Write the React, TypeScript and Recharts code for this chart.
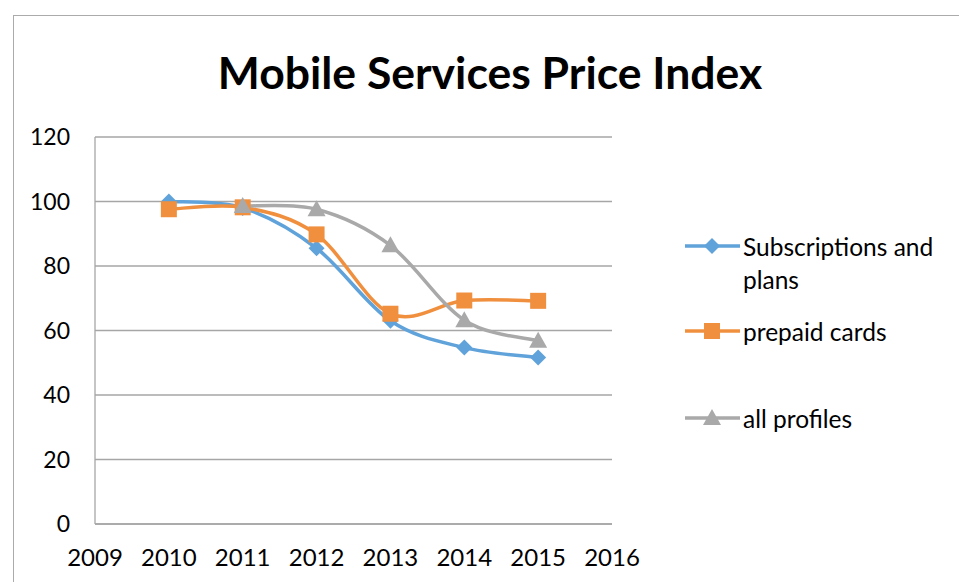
import React from "react";
import { LineChart, Line, XAxis, YAxis, CartesianGrid } from "recharts";

const years = [2010, 2011, 2012, 2013, 2014, 2015];
const subscriptions = [100, 98, 85.5, 63, 54.7, 51.6];
const prepaidCards = [97.6, 98.2, 89.8, 65.2, 69.3, 69.2];
const allProfiles = [null, 98.6, 97.6, 86.4, 63.2, 56.8];

const xTicks = [2009, 2010, 2011, 2012, 2013, 2014, 2015, 2016];
const yTicks = [0, 20, 40, 60, 80, 100, 120];

const BLUE = "#60A2DA";
const ORANGE = "#F0903F";
const GRAY = "#A9A9A9";
const FONT = "Lato, 'Open Sans', sans-serif";

const data = years.map((year, i) => ({
  year,
  subs: subscriptions[i],
  prepaid: prepaidCards[i],
  all: allProfiles[i],
}));

// excel-ish smoothed line (catmull-rom through the points)
const smoothCurve = (context: any) => {
  let pts: number[][] = [];
  return {
    areaStart() {},
    areaEnd() {},
    lineStart() {
      pts = [];
    },
    point(x: number, y: number) {
      pts.push([+x, +y]);
    },
    lineEnd() {
      const n = pts.length;
      if (!n) return;
      context.moveTo(pts[0][0], pts[0][1]);
      const t = 1 / 6;
      for (let i = 0; i < n - 1; i++) {
        const p0 = pts[i - 1] || pts[i];
        const p1 = pts[i];
        const p2 = pts[i + 1];
        const p3 = pts[i + 2] || p2;
        context.bezierCurveTo(
          p1[0] + (p2[0] - p0[0]) * t,
          p1[1] + (p2[1] - p0[1]) * t,
          p2[0] - (p3[0] - p1[0]) * t,
          p2[1] - (p3[1] - p1[1]) * t,
          p2[0],
          p2[1]
        );
      }
    },
  };
};

const Diamond = ({ cx, cy, fill }: any) => (
  <polygon points={`${cx},${cy - 8} ${cx + 8},${cy} ${cx},${cy + 8} ${cx - 8},${cy}`} fill={fill} />
);
const Square = ({ cx, cy, fill }: any) => (
  <rect x={cx - 8} y={cy - 8} width={16} height={16} fill={fill} />
);
const Triangle = ({ cx, cy, fill }: any) => (
  <polygon points={`${cx},${cy - 9} ${cx + 9},${cy + 7} ${cx - 9},${cy + 7}`} fill={fill} />
);

const makeDot = (Shape: any, fill: string) => (props: any) => {
  const { cx, cy, index, value } = props;
  if (cy == null || value == null) return <g key={`e-${index}`} />;
  return <Shape key={`d-${index}`} cx={cx} cy={cy} fill={fill} />;
};

const legendItems = [
  { lines: ["Subscriptions and", "plans"], color: BLUE, shape: Diamond, top: 0 },
  { lines: ["prepaid cards"], color: ORANGE, shape: Square, top: 85 },
  { lines: ["all profiles"], color: GRAY, shape: Triangle, top: 172 },
];

const ChartLegend = () => (
  <div
    style={{
      position: "absolute",
      left: 685,
      top: 230,
      width: 270,
      height: 210,
      fontFamily: FONT,
      fontSize: 24.5,
      color: "#000",
    }}
  >
    {legendItems.map((item) => {
      const Shape = item.shape;
      return (
        <div key={item.lines[0]} style={{ position: "absolute", left: 0, top: item.top }}>
          <svg width={56} height={32} style={{ position: "absolute", left: 0, top: 0 }}>
            <line x1={0} y1={16} x2={55} y2={16} stroke={item.color} strokeWidth={3.5} />
            <Shape cx={27} cy={16} fill={item.color} />
          </svg>
          <div style={{ position: "absolute", left: 58, top: 0, lineHeight: "33px", whiteSpace: "nowrap" }}>
            {item.lines.map((l) => (
              <div key={l}>{l}</div>
            ))}
          </div>
        </div>
      );
    })}
  </div>
);

export default function App() {
  return (
    <div style={{ position: "absolute", left: 0, top: 0, width: 959, height: 582, background: "#fff" }}>
      <div
        style={{
          position: "absolute",
          left: 13,
          top: 15,
          width: 946,
          height: 567,
          borderLeft: "1.5px solid #ababab",
          borderTop: "1.5px solid #ababab",
        }}
      />
      <div
        style={{
          position: "absolute",
          left: 0,
          top: 45,
          width: 980,
          textAlign: "center",
          fontFamily: FONT,
          fontWeight: "bold",
          fontSize: 44.5,
          color: "#000",
        }}
      >
        Mobile Services Price Index
      </div>
      <div style={{ position: "absolute", left: 0, top: 0 }}>
        <LineChart
          width={959}
          height={582}
          data={data}
          margin={{ top: 137, right: 347, bottom: 0, left: 35 }}
        >
          <CartesianGrid vertical={false} stroke="#a6a6a6" strokeWidth={1.3} />
          <XAxis
            dataKey="year"
            type="number"
            domain={[2009, 2016]}
            ticks={xTicks}
            interval={0}
            height={58}
            tickLine={false}
            tickSize={0}
            tickMargin={25}
            axisLine={{ stroke: "#a6a6a6", strokeWidth: 1.3 }}
            tick={{ fill: "#000", fontSize: 24, fontFamily: FONT }}
          />
          <YAxis
            domain={[0, 120]}
            ticks={yTicks}
            interval={0}
            width={60}
            tickLine={false}
            tickSize={0}
            tickMargin={25}
            axisLine={{ stroke: "#a6a6a6", strokeWidth: 1.3 }}
            tick={{ fill: "#000", fontSize: 23, fontFamily: FONT }}
          />
          <Line
            dataKey="subs"
            name="Subscriptions and plans"
            type={smoothCurve as any}
            stroke={BLUE}
            strokeWidth={3.5}
            dot={makeDot(Diamond, BLUE)}
            activeDot={false}
            isAnimationActive={false}
          />
          <Line
            dataKey="prepaid"
            name="prepaid cards"
            type={smoothCurve as any}
            stroke={ORANGE}
            strokeWidth={3.5}
            dot={makeDot(Square, ORANGE)}
            activeDot={false}
            isAnimationActive={false}
          />
          <Line
            dataKey="all"
            name="all profiles"
            type={smoothCurve as any}
            stroke={GRAY}
            strokeWidth={3.5}
            dot={makeDot(Triangle, GRAY)}
            activeDot={false}
            isAnimationActive={false}
          />
        </LineChart>
      </div>
      <ChartLegend />
    </div>
  );
}
